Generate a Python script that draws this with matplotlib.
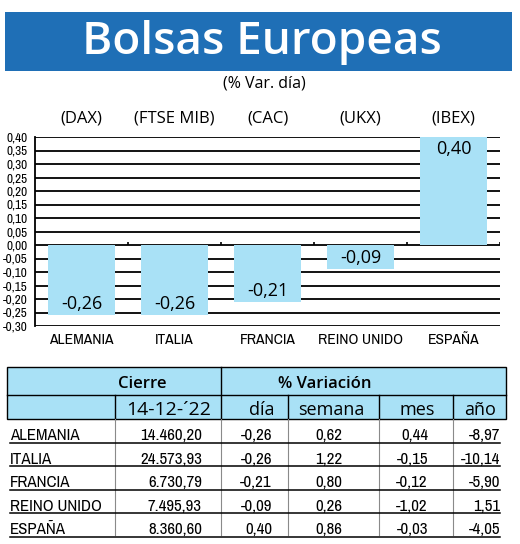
import numpy as np
import matplotlib
matplotlib.use("Agg")
import matplotlib.pyplot as plt
from matplotlib.patches import Rectangle
import matplotlib.transforms as mtransforms
from matplotlib import font_manager as fm

# datos
paises = ["ALEMANIA", "ITALIA", "FRANCIA", "REINO UNIDO", "ESPAÑA"]
indices = ["(DAX)", "(FTSE MIB)", "(CAC)", "(UKX)", "(IBEX)"]
var_dia = [-0.26, -0.26, -0.21, -0.09, 0.40]
cierre = [14460.20, 24573.93, 6730.79, 7495.93, 8360.60]
var_semana = [0.62, 1.22, 0.80, 0.26, 0.86]
var_mes = [0.44, -0.15, -0.12, -1.02, -0.03]
var_anio = [-8.97, -10.14, -5.90, 1.51, -4.05]
y_ticks = [-0.30, -0.25, -0.20, -0.15, -0.10, -0.05, 0.00, 0.05, 0.10, 0.15, 0.20, 0.25, 0.30, 0.35, 0.40]
fecha = "14-12-´22"

AZUL = "#1f6fb6"
CELESTE = "#a9e1f6"
REG = "Open Sans"

# buscar una fuente estrecha instalada
estrechas = sorted({f.name for f in fm.fontManager.ttflist
                    if "Narrow" in f.name or "Condensed" in f.name})
if estrechas:
    NARROW = dict(family=estrechas[0])
else:
    NARROW = dict(family="DejaVu Sans", stretch="condensed")


def es(v, miles=False):
    s = f"{v:,.2f}" if miles else f"{v:.2f}"
    return s.replace(",", "X").replace(".", ",").replace("X", ".")


fig = plt.figure(figsize=(5.2, 5.44), dpi=100)

# fondo en pixeles (titulo y tabla)
bg = fig.add_axes([0, 0, 1, 1])
bg.set_xlim(0, 520)
bg.set_ylim(544, 0)
bg.axis("off")

bg.add_patch(Rectangle((5, 12), 507, 59, color=AZUL, lw=0))
bg.text(262, 54, "Bolsas Europeas", color="white", fontsize=33, family=REG,
        weight="semibold", ha="center", va="baseline")
bg.text(264, 83, "(% Var. día)", fontsize=11.5, family=REG, ha="center", va="center")

# grafico de barras
ax = fig.add_axes([35 / 520, 1 - 326 / 544, 465 / 520, 189 / 544])
x = np.arange(len(paises))
ax.set_xlim(-0.5, len(paises) - 0.5)
ax.set_ylim(y_ticks[0], y_ticks[-1])
for t in y_ticks:
    ax.axhline(t, color="black", lw=1.3, zorder=1)
ax.bar(x, var_dia, width=0.71, color=CELESTE, zorder=2)
ax.vlines(x + 0.5, 0, 0.012, color="black", lw=1.2, zorder=3)

for xi, v in zip(x, var_dia):
    off = 11 if v < 0 else -12
    ax.annotate(es(v), (xi, v), xytext=(0, off), textcoords="offset pixels",
                ha="center", va="center", fontsize=13, family=REG, zorder=4)

trans = mtransforms.blended_transform_factory(ax.transData, ax.transAxes)
for xi, nombre in zip(x, indices):
    ax.text(xi, 1.10, nombre, transform=trans, ha="center", va="center",
            fontsize=12, family=REG)

for s in ["top", "right", "bottom"]:
    ax.spines[s].set_visible(False)
ax.spines["left"].set_linewidth(1.3)
ax.set_yticks(y_ticks)
ax.set_yticklabels([es(t) for t in y_ticks], fontsize=9.5, weight="semibold", **NARROW)
ax.tick_params(axis="y", length=0, pad=5)
ax.set_xticks(x)
ax.set_xticklabels(paises, fontsize=11.2, **NARROW)
ax.tick_params(axis="x", length=0, pad=5)

# tabla
top, h1, h2 = 367, 395, 419
izq, der = 7, 506
fila = 23.6
bg.add_patch(Rectangle((izq, top), der - izq, h2 - top, facecolor=CELESTE,
                       edgecolor="black", lw=1.0))
bg.plot([izq, der], [h1, h1], color="black", lw=1.0)
bg.plot([221, 221], [top, h2], color="black", lw=1.0)
for xd in [115, 288, 379, 453]:
    bg.plot([xd, xd], [h1, h2], color="black", lw=1.0)

bg.text(142, 388, "Cierre", fontsize=12, family=REG, weight="semibold", ha="center", va="baseline")
bg.text(325, 388, "% Variación", fontsize=12, family=REG, weight="semibold", ha="center", va="baseline")
bg.text(211, 415, fecha, fontsize=14, family=REG, ha="right", va="baseline")
bg.text(274, 415, "día", fontsize=13, family=REG, ha="right", va="baseline")
bg.text(331, 415, "semana", fontsize=13, family=REG, ha="center", va="baseline")
bg.text(417, 415, "mes", fontsize=13, family=REG, ha="center", va="baseline")
bg.text(496, 415, "año", fontsize=13, family=REG, ha="right", va="baseline")

n = len(paises)
fondo = h2 + n * fila
for xd in [115, 221, 288, 379, 453]:
    bg.plot([xd, xd], [h2, fondo - 2], color="#8a8a8a", lw=0.8)

columnas = [
    ([es(v, True) for v in cierre], 202),
    ([es(v) for v in var_dia], 272),
    ([es(v) for v in var_semana], 342),
    ([es(v) for v in var_mes], 428),
    ([es(v) for v in var_anio], 500),
]
for i, p in enumerate(paises):
    linea = h2 + (i + 1) * fila
    bg.plot([10, 500], [linea, linea], color="black", lw=1.1)
    bg.text(10, linea - 2.5, p, fontsize=12.2, ha="left", va="baseline", **NARROW)
    for vals, xr in columnas:
        bg.text(xr, linea - 2.5, vals[i], fontsize=12.2, ha="right", va="baseline", **NARROW)

fig.savefig("out.png", dpi=100, facecolor="white")
